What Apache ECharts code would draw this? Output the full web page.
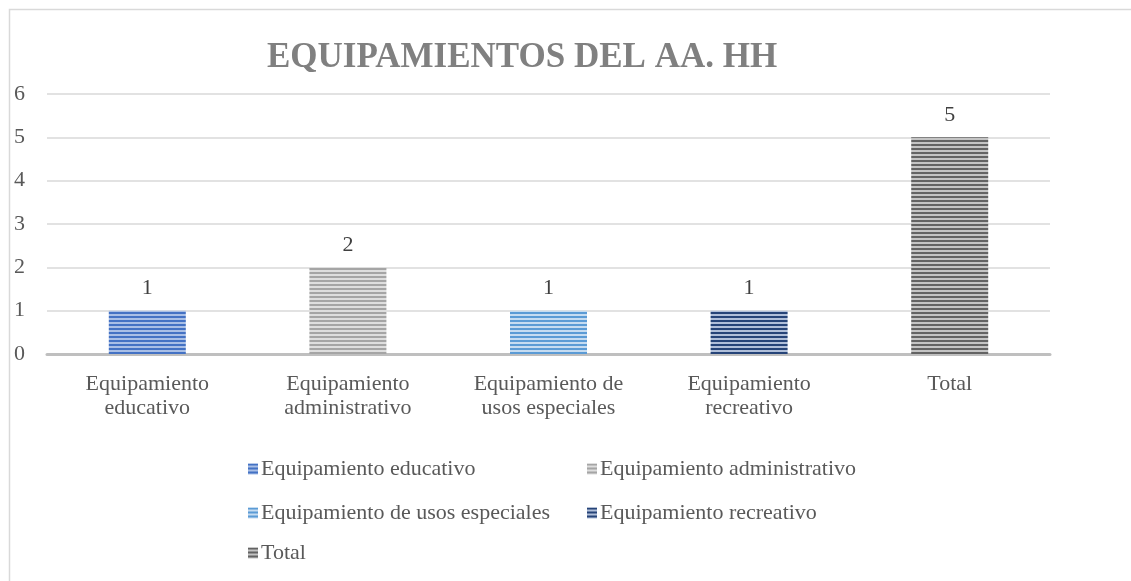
<!DOCTYPE html>
<html>
<head>
<meta charset="utf-8">
<script src="https://cdn.jsdelivr.net/npm/echarts@6/dist/echarts.min.js"></script>
<style>
  html, body { margin: 0; padding: 0; background: #ffffff; }
  #chart { width: 1131px; height: 581px; }
</style>
</head>
<body>
<div id="chart"></div>
<script>
// data
const categories = [
  "Equipamiento educativo",
  "Equipamiento administrativo",
  "Equipamiento de usos especiales",
  "Equipamiento recreativo",
  "Total",
];
const axisLabels = [
  "Equipamiento\neducativo",
  "Equipamiento\nadministrativo",
  "Equipamiento de\nusos especiales",
  "Equipamiento\nrecreativo",
  "Total",
];
const values = [1, 2, 1, 1, 5];
const yTicks = [0, 1, 2, 3, 4, 5, 6];

// stripe colours [dark, light] per category
const stripeColors = [
  ["#4472c4", "#a9bfe6"],
  ["#a5a5a5", "#dedede"],
  ["#5b9bd5", "#c6dcf1"],
  ["#264478", "#b0bfd9"],
  ["#636363", "#c4c4c4"],
];

function stripes(dark, light) {
  const c = document.createElement("canvas");
  c.width = 4;
  c.height = 4;
  const ctx = c.getContext("2d");
  ctx.fillStyle = light;
  ctx.fillRect(0, 0, 4, 4);
  ctx.fillStyle = dark;
  ctx.fillRect(0, 0, 4, 2);
  return { image: c, repeat: "repeat" };
}

const font = "'Liberation Serif', 'Times New Roman', serif";

const series = categories.map((name, i) => ({
  name,
  type: "bar",
  stack: "one",
  barWidth: 77,
  data: values.map((v, j) => (j === i ? v : "-")),
  itemStyle: { color: stripes(stripeColors[i][0], stripeColors[i][1]) },
  label: {
    show: true,
    position: "top",
    distance: 11,
    color: "#404040",
    fontFamily: font,
    fontSize: 22,
  },
}));

const legendText = { color: "#595959", fontFamily: font, fontSize: 22 };
// legend cells: [column left, row top]
const legendPos = [
  [243, 453],
  [582, 453],
  [243, 497],
  [582, 497],
  [243, 537],
];
const legends = categories.map((name, i) => ({
  left: legendPos[i][0],
  top: legendPos[i][1],
  itemWidth: 10,
  itemHeight: 11,
  itemGap: 0,
  icon: "rect",
  data: [name],
  textStyle: Object.assign({ padding: [0, 0, 0, -2] }, legendText),
}));

const chart = echarts.init(document.getElementById("chart"), null, { renderer: "canvas" });
chart.setOption({
  animation: false,
  backgroundColor: "#ffffff",
  title: {
    text: "EQUIPAMIENTOS DEL AA. HH",
    left: 262,
    top: 35,
    textStyle: {
      color: "#808080",
      fontFamily: font,
      fontSize: 35,
      fontWeight: "bold",
    },
  },
  graphic: [
    {
      type: "polyline",
      shape: { points: [[9.5, 581], [9.5, 9.5], [1131, 9.5]] },
      style: { stroke: "#d9d9d9", lineWidth: 1.5, fill: null },
      silent: true,
    },
  ],
  legend: legends,
  grid: { left: 47, right: 81, top: 94, bottom: 227 },
  xAxis: {
    type: "category",
    data: axisLabels,
    axisLine: { lineStyle: { color: "#bfbfbf", width: 3 } },
    axisTick: { show: false },
    axisLabel: {
      color: "#595959",
      fontFamily: font,
      fontSize: 22,
      lineHeight: 24,
      margin: 18,
      interval: 0,
    },
  },
  yAxis: {
    type: "value",
    min: yTicks[0],
    max: yTicks[yTicks.length - 1],
    interval: 1,
    axisLine: { show: false },
    axisTick: { show: false },
    splitLine: { lineStyle: { color: "#d9d9d9", width: 1.5 } },
    axisLabel: {
      color: "#595959",
      fontFamily: font,
      fontSize: 22,
      margin: 22,
    },
  },
  series,
});
</script>
</body>
</html>
